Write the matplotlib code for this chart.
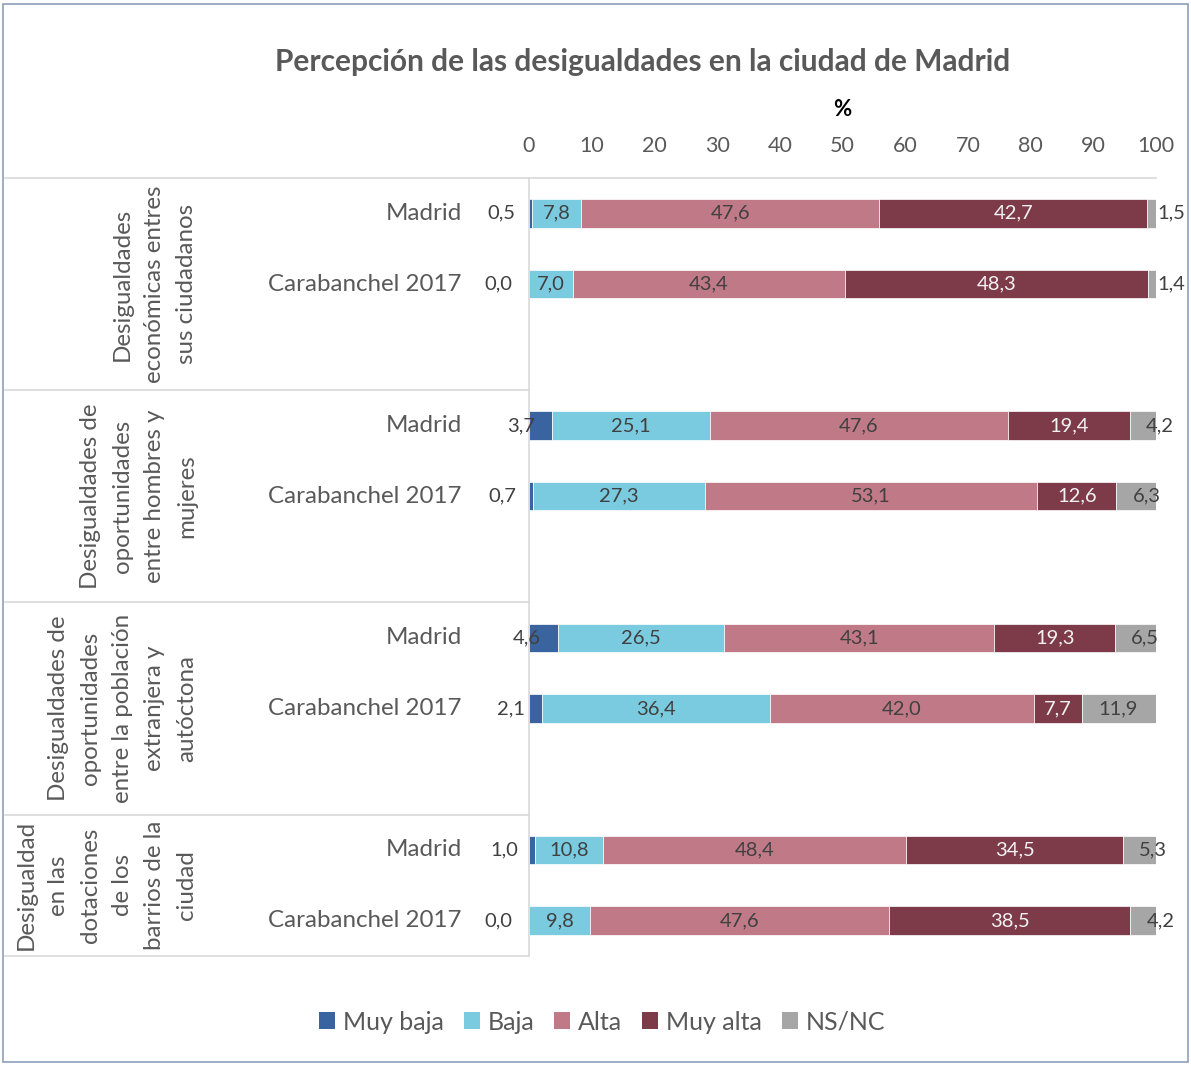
import matplotlib
matplotlib.use("Agg")
import matplotlib.pyplot as plt
from matplotlib.patches import Patch, Rectangle
from matplotlib.transforms import blended_transform_factory

plt.rcParams['font.family'] = ['Lato', 'DejaVu Sans']

# datos (%)
grupos = ["Desigualdades\neconómicas entres\nsus ciudadanos",
          "Desigualdades de\noportunidades\nentre hombres y\nmujeres",
          "Desigualdades de\noportunidades\nentre la población\nextranjera y\nautóctona",
          "Desigualdad\nen las\ndotaciones\nde los\nbarrios de la\nciudad"]
ambitos = ["Madrid", "Carabanchel 2017"]
series = ["Muy baja", "Baja", "Alta", "Muy alta", "NS/NC"]
muy_baja = [0.5, 0.0, 3.7, 0.7, 4.6, 2.1, 1.0, 0.0]
baja = [7.8, 7.0, 25.1, 27.3, 26.5, 36.4, 10.8, 9.8]
alta = [47.6, 43.4, 47.6, 53.1, 43.1, 42.0, 48.4, 47.6]
muy_alta = [42.7, 48.3, 19.4, 12.6, 19.3, 7.7, 34.5, 38.5]
nsnc = [1.5, 1.4, 4.2, 6.3, 6.5, 11.9, 5.3, 4.2]

colores = ["#3A64A0", "#7BCBE0", "#C07A87", "#7D3B4A", "#A6A6A6"]
gris = "#595959"

W, H = 1191, 1067
fig = plt.figure(figsize=(W / 100, H / 100), dpi=100)
fig.patches.append(Rectangle((3 / W, 1 - 1062 / H), 1185 / W, 1058 / H, transform=fig.transFigure,
                             fill=False, edgecolor="#8EA0BA", linewidth=1.2))

x0, x1, ytop, ybot = 529, 1156, 178, 956
ax = fig.add_axes([x0 / W, 1 - ybot / H, (x1 - x0) / W, (ybot - ytop) / H])

# posiciones: dos barras por grupo y un hueco
ypos = []
for g in range(len(grupos)):
    ypos += [g * 3, g * 3 + 1]

datos = [muy_baja, baja, alta, muy_alta, nsnc]
px = 100 / (x1 - x0)
fs_val = 14.5
izq = [0.0] * len(ypos)
for s, vals in enumerate(datos):
    ax.barh(ypos, vals, left=izq, height=0.4, color=colores[s], edgecolor="white", linewidth=0.5)
    for i, v in enumerate(vals):
        txt = f"{v:.1f}".replace(".", ",")
        yy = ypos[i]
        if s == 0:
            ax.text(izq[i] + v - 17 * px, yy, txt, ha="right", va="center", fontsize=fs_val, color="#404040")
        elif s == 4:
            xx = min(izq[i] + 16 * px, izq[i] + v + 1 * px)
            ax.text(xx, yy, txt, ha="left", va="center", fontsize=fs_val, color="#404040")
        else:
            c = "#F2F2F2" if s == 3 else "#404040"
            ax.text(izq[i] + v / 2, yy, txt, ha="center", va="center", fontsize=fs_val, color=c)
    izq = [a + b for a, b in zip(izq, vals)]

ax.set_xlim(0, 100)
ax.set_ylim(10.5, -0.5)
ax.set_xticks(range(0, 101, 10))
ax.xaxis.tick_top()
ax.tick_params(axis="x", length=0, pad=15.5, labelsize=15.5, labelcolor=gris)
ax.set_yticks([])
for sp in ["right", "bottom"]:
    ax.spines[sp].set_visible(False)
for sp in ["top", "left"]:
    ax.spines[sp].set_color("#D9D9D9")
    ax.spines[sp].set_linewidth(1.2)

# tabla de categorías a la izquierda
tr = ax.get_yaxis_transform()
xl = (5 - x0) / (x1 - x0)
for yl in [-0.5, 2.5, 5.5, 8.5, 10.5]:
    ax.plot([xl, 0], [yl, yl], transform=tr, color="#D9D9D9", linewidth=1.2, clip_on=False)

xcat = (462 - x0) / (x1 - x0)
for i, yy in enumerate(ypos):
    ax.text(xcat, yy, ambitos[i % 2], transform=tr, ha="right", va="center", fontsize=17.4, color=gris)

xgrp = (197 - x0) / (x1 - x0)
for g, nombre in enumerate(grupos):
    yc = (g * 3 - 0.5 + min(g * 3 + 2.5, 10.5)) / 2
    ax.text(xgrp, yc, nombre, transform=tr, rotation=90, ha="right", va="center",
            multialignment="center", fontsize=17.4, color=gris, linespacing=1.65)

fig.text(643 / W, 1 - 62 / H, "Percepción de las desigualdades en la ciudad de Madrid",
         ha="center", va="center", fontsize=21.5, fontweight="bold", color=gris)
ax.text(50, 1 - 110 / H, "%", transform=blended_transform_factory(ax.transData, fig.transFigure),
        ha="center", va="center", fontsize=16, fontweight="bold", color="black")

handles = [Patch(facecolor=c, edgecolor="none") for c in colores]
fig.legend(handles, series, loc="center", bbox_to_anchor=(602 / W, 1 - 1022 / H), ncol=5,
           frameon=False, fontsize=18, handlelength=0.65, handleheight=0.65, handletextpad=0.3,
           columnspacing=0.8, labelcolor=gris)

fig.savefig("out.png", dpi=100)
